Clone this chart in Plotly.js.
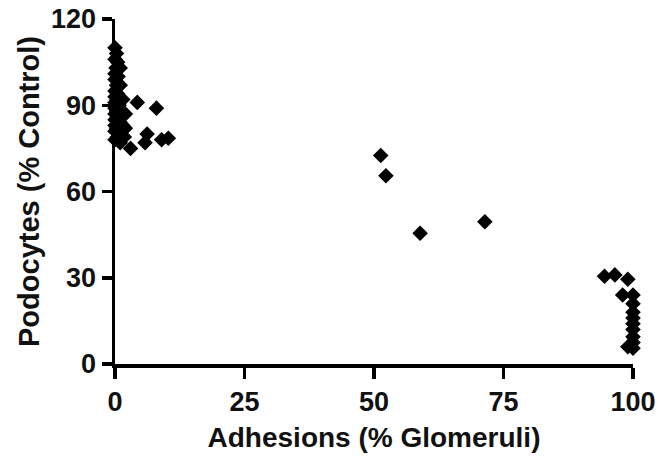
<!DOCTYPE html>
<html>
<head>
<meta charset="utf-8">
<script src="https://cdn.plot.ly/plotly-3.0.1.min.js"></script>
<style>
  html, body { margin: 0; padding: 0; background: #fff; }
  #chart { width: 663px; height: 457px; }
</style>
</head>
<body>
<div id="chart"></div>
<script>
// Adhesions (% of glomeruli) vs podocyte count (% of control), one point per animal
var adhesionsNormal = [0, 0.3, 0, 0.5, 0.2, 1, 0, 0.6, 0, 0.3, 1, 0, 0.5, 0, 0.4, 1.5, 0, 0.8, 0, 0.3, 1.2, 0, 2, 0.5, 0, 1, 0, 1.5, 0.3, 2, 0, 1, 0.5, 1.8, 0, 1,
                       4.3, 8, 3, 6.2, 5.8, 9, 10.3];
var podocytesNormal = [110, 108, 106, 105, 103, 103, 101, 100, 99, 97, 97, 95, 94, 93, 92, 92, 91, 90, 89, 88, 88, 87, 87, 86, 85, 84, 83, 83, 82, 82, 81, 80, 79, 79, 78, 77,
                       91, 89, 75, 80, 77, 78, 78.5];

var adhesionsMid = [51.3, 52.3, 58.9, 71.4];
var podocytesMid = [72.5, 65.5, 45.5, 49.5];

var adhesionsHigh = [94.5, 96.5, 99, 98, 100, 100, 100, 100, 100, 100, 100, 100, 99, 100];
var podocytesHigh = [30.5, 31, 29.5, 24, 24, 21, 18, 16, 14, 12, 9.5, 7.5, 6, 5.5];

var xTicks = [0, 25, 50, 75, 100];
var yTicks = [0, 30, 60, 90, 120];

var xs = adhesionsNormal.concat(adhesionsMid, adhesionsHigh);
var ys = podocytesNormal.concat(podocytesMid, podocytesHigh);

var trace = {
  x: xs,
  y: ys,
  type: 'scatter',
  mode: 'markers',
  cliponaxis: false,
  marker: { symbol: 'diamond', size: 12, color: '#000' },
  hoverinfo: 'x+y'
};

var tickFont = { family: 'Liberation Sans, Arial, Helvetica, sans-serif', size: 27, color: '#111', weight: 'bold' };
var xTitleFont = { family: 'Liberation Sans, Arial, Helvetica, sans-serif', size: 28, color: '#111', weight: 'bold' };
var yTitleFont = { family: 'Liberation Sans, Arial, Helvetica, sans-serif', size: 29, color: '#111', weight: 'bold' };

var layout = {
  width: 663,
  height: 457,
  margin: { l: 115, r: 30, t: 19, b: 93 },
  paper_bgcolor: '#fff',
  plot_bgcolor: '#fff',
  showlegend: false,
  font: tickFont,
  xaxis: {
    range: [0, 100],
    tickvals: xTicks,
    ticktext: xTicks.map(String),
    showline: true, linewidth: 3.5, linecolor: '#000',
    ticks: 'outside', ticklen: 11, tickwidth: 3.5, tickcolor: '#000',
    showgrid: false, zeroline: false,
    tickfont: tickFont,
    title: { text: 'Adhesions (% Glomeruli)', font: xTitleFont, standoff: 12 }
  },
  yaxis: {
    range: [0, 120],
    tickvals: yTicks,
    ticktext: yTicks.map(String),
    showline: true, linewidth: 3.5, linecolor: '#000',
    ticks: 'outside', ticklen: 10, tickwidth: 3.5, tickcolor: '#000',
    showgrid: false, zeroline: false,
    tickfont: tickFont,
    title: { text: 'Podocytes (% Control)', font: yTitleFont, standoff: 4 }
  }
};

Plotly.newPlot('chart', [trace], layout, { displayModeBar: false, staticPlot: true });
</script>
</body>
</html>
